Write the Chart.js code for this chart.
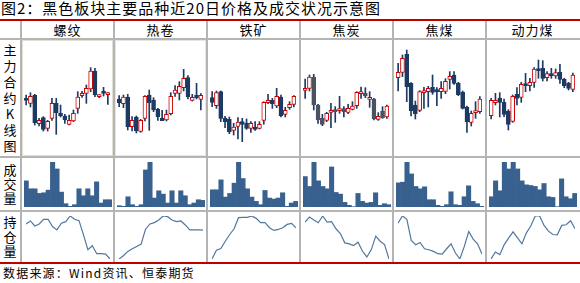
<!DOCTYPE html>
<html>
<head>
<meta charset="utf-8">
<script src="https://cdn.jsdelivr.net/npm/chart.js@4.4.0/dist/chart.umd.min.js"></script>
<style>
body{margin:0;background:#fff;}
#wrap{position:relative;width:580px;height:283px;overflow:hidden;font-family:"Noto Sans CJK SC","Noto Sans",sans-serif;color:#000;}
.abs{position:absolute;}
.red{background:#c00000;}
.gray{background:#b4b4b4;}
.title{left:1px;top:-2px;font-size:15px;letter-spacing:1px;line-height:20px;white-space:nowrap;}
.head{top:21px;height:17px;line-height:17px;font-size:13px;text-align:center;letter-spacing:1px;}
.side{left:0;width:20px;text-align:center;font-size:13px;}
.src{left:3px;top:264px;font-size:12px;letter-spacing:1.2px;line-height:17px;white-space:nowrap;}
canvas{position:absolute;}
</style>
</head>
<body>
<div id="wrap">
  <div class="abs title">图2：黑色板块主要品种近20日价格及成交状况示意图</div>
  <div class="abs side" style="top:42px;line-height:16px;">主<br>力<br>合<br>约<br>K<br>线<br>图</div>
  <div class="abs side" style="top:163px;line-height:14px;">成<br>交<br>量</div>
  <div class="abs side" style="top:215px;line-height:14.5px;">持<br>仓<br>量</div>
  <div class="abs src">数据来源：Wind资讯、恒泰期货</div>
</div>
<script>
// 品种
const products = ['螺纹', '热卷', '铁矿', '焦炭', '焦煤', '动力煤'];
const days = Array.from({length: 20}, (_, i) => 'D' + (i + 1));

// 主力合约 K 线 (开 高 低 收)
const rbOpen  = [3769,3755,3780,3694,3712,3680,3710,3755,3725,3717,3692,3702,3740,3778,3785,3798,3852,3775,3792,3781];
const rbHigh  = [3780,3787,3782,3710,3715,3704,3770,3770,3750,3722,3720,3735,3790,3791,3810,3862,3860,3781,3803,3787];
const rbLow   = [3750,3744,3690,3687,3672,3672,3704,3662,3714,3695,3690,3700,3725,3773,3755,3790,3775,3772,3777,3752];
const rbClose = [3764,3776,3697,3704,3677,3701,3755,3727,3717,3705,3704,3725,3774,3785,3800,3852,3780,3779,3785,3785];

const hcOpen  = [3868,3854,3874,3785,3814,3771,3810,3880,3865,3838,3811,3805,3824,3885,3885,3902,3932,3864,3880,3867];
const hcHigh  = [3878,3880,3882,3815,3817,3807,3878,3895,3872,3840,3834,3835,3887,3908,3920,3957,3938,3882,3915,3884];
const hcLow   = [3845,3842,3775,3772,3766,3768,3802,3774,3830,3804,3803,3802,3820,3876,3865,3892,3868,3862,3868,3835];
const hcClose = [3857,3874,3785,3804,3772,3804,3876,3857,3835,3815,3803,3822,3876,3895,3906,3930,3875,3873,3872,3879];

const iOpen   = [672,648,690,611,607,574,586,600,596,580,584,580,604,657,664,647,674,622,642,652];
const iHigh   = [690,692,692,616,614,595,612,610,608,600,600,600,660,682,670,700,680,643,660,678];
const iLow    = [645,640,600,582,564,560,548,540,577,568,574,578,592,654,640,642,614,614,637,644];
const iClose  = [658,687,610,600,569,584,599,592,580,595,577,592,658,664,654,676,618,634,652,676];

const jOpen   = [2194,2200,2234,2150,2110,2104,2128,2135,2133,2139,2128,2137,2148,2184,2186,2167,2168,2107,2132,2114];
const jHigh   = [2228,2240,2242,2152,2122,2128,2155,2145,2176,2145,2152,2160,2190,2204,2202,2190,2170,2127,2145,2150];
const jLow    = [2170,2192,2135,2095,2088,2100,2082,2098,2125,2114,2124,2135,2140,2170,2172,2143,2105,2104,2110,2110];
const jClose  = [2200,2234,2150,2105,2092,2125,2134,2130,2139,2130,2140,2147,2188,2188,2177,2172,2108,2116,2112,2147];

const jmOpen  = [1402,1418,1472,1385,1320,1304,1357,1360,1373,1364,1360,1361,1397,1410,1385,1359,1314,1268,1297,1300];
const jmHigh  = [1445,1470,1485,1387,1332,1363,1373,1376,1410,1372,1390,1399,1420,1420,1388,1362,1317,1302,1330,1345];
const jmLow   = [1362,1405,1330,1287,1278,1300,1310,1314,1352,1318,1340,1354,1368,1382,1348,1308,1238,1257,1280,1295];
const jmClose = [1418,1460,1375,1303,1294,1360,1362,1370,1358,1360,1370,1391,1406,1385,1351,1310,1270,1295,1302,1338];

const zcOpen  = [488,527,541,528,502,471,552,543,583,578,588,628,630,602,612,607,618,598,585,567];
const zcHigh  = [540,555,557,538,506,550,572,588,615,600,632,655,653,620,630,628,642,600,588,616];
const zcLow   = [478,520,484,485,445,468,520,528,560,562,573,600,592,592,600,600,585,572,565,560];
const zcClose = [534,534,528,492,462,546,540,582,578,588,628,623,600,614,608,617,597,578,570,610];

// 成交量
const rbVol = [79,55,55,41,43,51,136,115,45,10,2,7,55,34,55,34,76,12,22,22];
const hcVol = [4,2,31,7,2,7,112,136,27,49,39,12,49,12,49,34,7,12,22,20];
const iVol  = [52,52,82,30,41,72,136,86,55,30,17,7,50,27,24,27,43,2,12,17];
const jVol  = [92,62,136,79,62,55,121,44,39,14,5,1,41,17,12,14,43,5,10,7];
const jmVol = [73,75,136,100,62,55,61,22,22,5,2,7,46,7,5,31,64,17,10,2];
const zcVol = [31,79,49,136,115,136,115,79,67,65,62,52,71,31,29,1,85,31,25,41];

// 持仓量
const rbOI = [118,127,112,118,132,132,110,100,120,125,142,132,128,85,40,52,28,28,27,12];
const hcOI = [12,22,35,43,50,57,102,118,122,130,142,140,130,125,127,115,100,100,100,99];
const iOI  = [12,38,43,65,85,102,135,136,136,140,133,120,120,105,97,100,105,115,118,105];
const jOI  = [122,137,128,120,140,122,123,102,88,60,57,52,62,35,18,40,80,65,55,12];
const jmOI = [120,142,132,68,55,62,43,40,35,28,27,43,58,30,12,50,95,72,58,27];
const zcOI = [12,33,25,55,75,93,75,57,90,110,140,140,112,95,85,84,112,114,126,102];

// K 线纵轴上限, 各品种同一跨度
const priceTop = [3945, 4045, 845, 2345, 1515, 715];
const priceSpan = 348;

const panels = [
  {o: rbOpen, h: rbHigh, l: rbLow, c: rbClose, vol: rbVol, oi: rbOI},
  {o: hcOpen, h: hcHigh, l: hcLow, c: hcClose, vol: hcVol, oi: hcOI},
  {o: iOpen,  h: iHigh,  l: iLow,  c: iClose,  vol: iVol,  oi: iOI},
  {o: jOpen,  h: jHigh,  l: jLow,  c: jClose,  vol: jVol,  oi: jOI},
  {o: jmOpen, h: jmHigh, l: jmLow, c: jmClose, vol: jmVol, oi: jmOI},
  {o: zcOpen, h: zcHigh, l: zcLow, c: zcClose, vol: zcVol, oi: zcOI}
];

const NAVY = '#1d3a62';
const RED = '#cc0000';
const wrap = document.getElementById('wrap');

function addBox(cls, left, top, w, h, style) {
  const d = document.createElement('div');
  d.className = 'abs ' + cls;
  d.style.left = left + 'px';
  d.style.top = top + 'px';
  d.style.width = w + 'px';
  d.style.height = h + 'px';
  if (style) d.style.cssText += style;
  wrap.appendChild(d);
  return d;
}

function addCanvas(left, top, w, h) {
  const c = document.createElement('canvas');
  c.width = w; c.height = h;
  c.style.left = left + 'px';
  c.style.top = top + 'px';
  c.style.width = w + 'px';
  c.style.height = h + 'px';
  wrap.appendChild(c);
  return c;
}

const baseOpts = (pad) => ({
  responsive: false,
  animation: false,
  events: [],
  layout: {padding: pad},
  plugins: {legend: {display: false}, tooltip: {enabled: false}}
});

// frame lines
addBox('red', 0, 19, 580, 2);
addBox('red', 0, 262, 580, 2);
addBox('gray', 0, 38, 580, 2);
addBox('gray', 0, 156, 580, 2);
addBox('gray', 0, 210, 580, 2);

panels.forEach((p, i) => {
  const L = 21 + 93 * i;
  addBox('gray', L - 1, 21, 2, 241);
  const hd = addBox('head', L, 21, 93, 17);
  hd.textContent = products[i];
  if (i < 2) addBox('', L + 1, 40, 91, 116, 'box-sizing:border-box;border:1px solid ' + (i === 0 ? '#e2dfd2' : '#e6e6e6') + ';');

  // K 线
  const downColor = i === 3 ? '#4b5262' : NAVY;
  const up = p.o.map((o, k) => p.c[k] >= o);
  new Chart(addCanvas(L + 3, 40, 86, 116), {
    type: 'bar',
    data: {
      labels: days,
      datasets: [
        {
          data: p.o.map((o, k) => [o, p.c[k]]),
          backgroundColor: up.map(u => u ? '#ffffff' : downColor),
          borderColor: up.map(u => u ? RED : downColor),
          borderWidth: 1,
          borderSkipped: false,
          barThickness: 4,
          minBarLength: 2,
          grouped: false,
          order: 1
        },
        {
          data: p.l.map((l, k) => [l, p.h[k]]),
          backgroundColor: NAVY,
          barThickness: 1,
          grouped: false,
          order: 2
        }
      ]
    },
    options: Object.assign(baseOpts(0), {
      scales: {
        x: {display: false},
        y: {display: false, min: priceTop[i] - priceSpan, max: priceTop[i]}
      }
    })
  });

  // 成交量
  new Chart(addCanvas(L + 3, 158, 88, 52), {
    type: 'bar',
    data: {
      labels: days,
      datasets: [{
        data: p.vol,
        backgroundColor: '#38618f',
        borderWidth: 0,
        barPercentage: 1,
        categoryPercentage: 1
      }]
    },
    options: Object.assign(baseOpts({top: 4, bottom: 3}), {
      scales: {
        x: {display: false},
        y: {display: false, min: 0, max: Math.max(...p.vol)}
      }
    })
  });

  // 持仓量
  new Chart(addCanvas(L + 5, 212, 84, 50), {
    type: 'line',
    data: {
      labels: days,
      datasets: [{
        data: p.oi,
        borderColor: '#52779f',
        borderWidth: 1.2,
        pointRadius: 0,
        tension: 0,
        fill: false
      }]
    },
    options: Object.assign(baseOpts({top: 4, bottom: 3}), {
      scales: {
        x: {display: false, offset: false},
        y: {display: false, min: Math.min(...p.oi), max: Math.max(...p.oi)}
      }
    })
  });
});
</script>
</body>
</html>
